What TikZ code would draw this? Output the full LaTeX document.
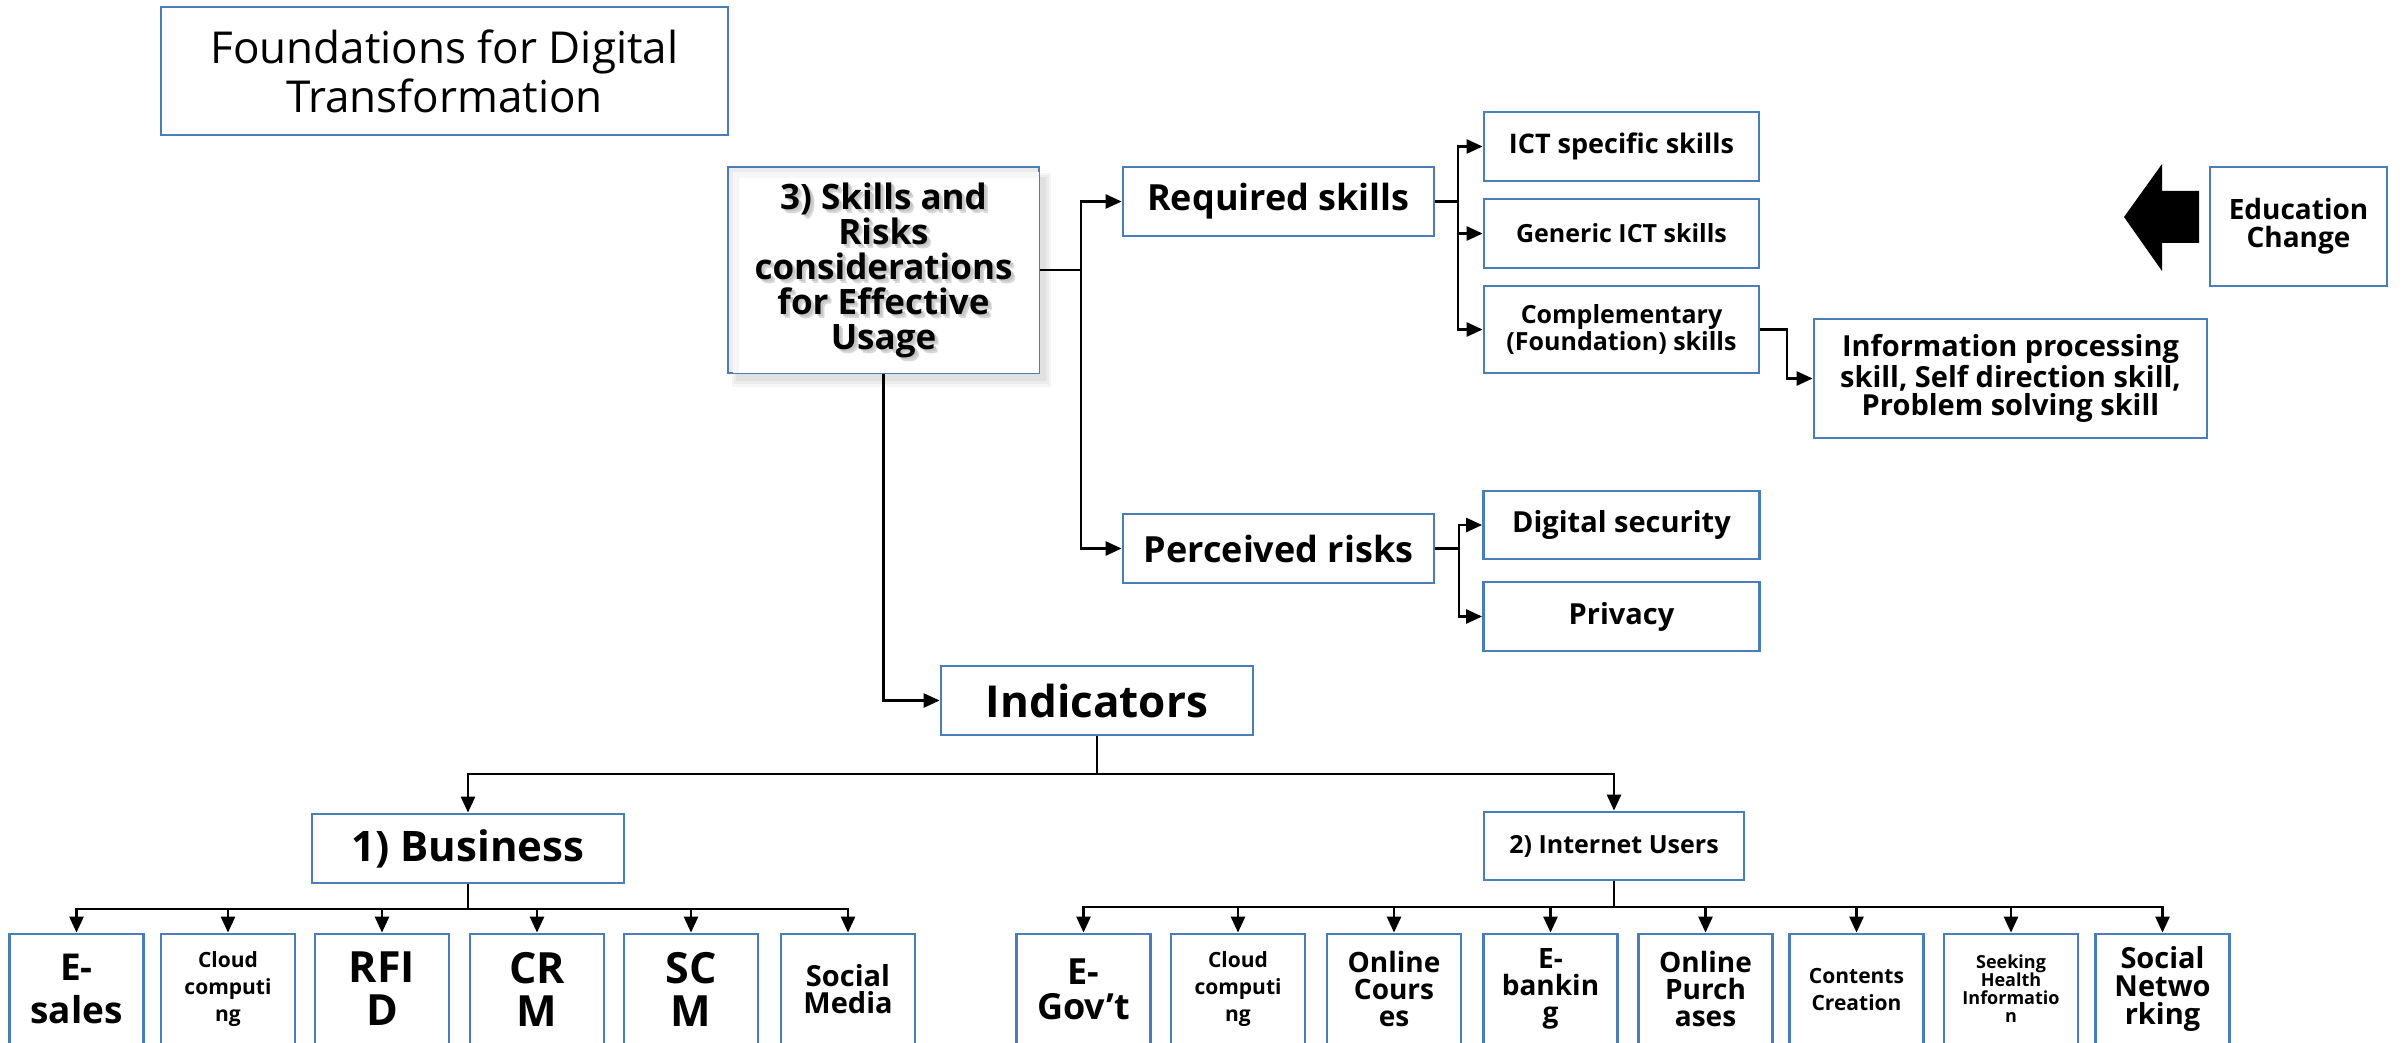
\documentclass[tikz,border=0pt]{standalone}
\usepackage{fontspec}
\setmainfont{Open Sans}
\usetikzlibrary{arrows.meta}
\definecolor{boxblue}{RGB}{74,126,187}

\begin{document}
\begin{tikzpicture}[x=0.5pt,y=-0.5pt,
  box/.style={draw=boxblue,line width=1.4pt,fill=white,align=center,inner sep=0pt},
  sz/.style 2 args={minimum width=#1*0.5pt,minimum height=#2*0.5pt},
  fs/.style 2 args={font=\fontsize{#1pt}{#2pt}\selectfont\bfseries},
  plain/.style={align=center,inner sep=0pt},
  ln/.style={line width=1.3pt},
  arr/.style={ln,-{Triangle[length=8pt,width=7pt]}},
]
\useasboundingbox (0,0) rectangle (2402,1043);

% title
\node[box,sz={567}{128},font=\fontsize{22pt}{24.5pt}\selectfont] (title) at (444.5,71)
  {Foundations for Digital\\Transformation};

% skills and risks box with soft outer shadow and inner shadow
\fill[gray!8] (732,173) rectangle (1051,387);
\fill[gray!16] (734,175) rectangle (1049,384);
\fill[gray!24] (736,177) rectangle (1046,381);
\node[box,fill=gray!16,sz={311}{206}] (skills) at (883.5,270) {};
\fill[gray!7] ([shift={(6,6)}]skills.north west) rectangle ([shift={(-1.5,-1.5)}]skills.south east);
\fill[white] ([shift={(12,12)}]skills.north west) rectangle ([shift={(-1.5,-1.5)}]skills.south east);
\node[plain,fs={17.5}{17.5},text=gray!30] (skillsblur) at (887.5,274.5)
  {3) Skills and\\Risks\\considerations\\for Effective\\Usage};
\node[plain,fs={17.5}{17.5},text=gray!45] (skillsshade) at (886,272.5)
  {3) Skills and\\Risks\\considerations\\for Effective\\Usage};
\node[plain,fs={17.5}{17.5}] (skillstext) at (883.5,270)
  {3) Skills and\\Risks\\considerations\\for Effective\\Usage};

% skills and risks
\node[box,sz={311}{69},fs={18}{21}] (req) at (1278.5,201.5) {Required skills};
\node[box,sz={311}{69},fs={18}{21}] (perc) at (1278.5,548.5) {Perceived risks};
\node[box,sz={275}{69},fs={13.5}{16}] (ict) at (1621.5,146.5) {ICT specific skills};
\node[box,sz={275}{69},fs={12.5}{15}] (gen) at (1621.5,233.5) {Generic ICT skills};
\node[box,sz={275}{87},fs={12.5}{13.5}] (comp) at (1621.5,329.5) {Complementary\\(Foundation) skills};
\node[box,sz={393}{119},fs={14.5}{14}] (info) at (2010.5,378.5)
  {Information processing\\skill, Self direction skill,\\Problem solving skill};
\node[box,sz={276}{68},fs={14.5}{16}] (dsec) at (1621.5,525) {Digital security};
\node[box,sz={276}{69},fs={14.5}{16}] (priv) at (1621.5,616.5) {Privacy};

% education change with block arrow
\node[box,sz={177}{119},fs={14}{14}] (edu) at (2298.5,226.5) {Education\\Change};
\fill (2124,217) -- (2162,164) -- (2162,191) -- (2199,191) -- (2199,243)
  -- (2162,243) -- (2162,271) -- cycle;

% indicators
\node[box,sz={312}{69},fs={22}{24}] (ind) at (1097,700.5) {Indicators};
\node[box,sz={312}{69},fs={21}{24}] (bus) at (468,848.5) {1) Business};
\node[box,sz={260}{68},fs={12.5}{15}] (inet) at (1614,846) {2) Internet Users};

% business indicators
\node[box,sz={134}{110},fs={18.5}{21.5}] (b1) at (76.5,989) {E-\\sales};
\node[box,sz={134}{110},fs={10.5}{13.5}] (b2) at (228,989) {Cloud\\computi\\ng};
\node[box,sz={134}{110},fs={21.5}{21.5}] (b3) at (382,989) {RFI\\D};
\node[box,sz={134}{110},fs={21.5}{21.5}] (b4) at (537,989) {CR\\M};
\node[box,sz={134}{110},fs={21.5}{21.5}] (b5) at (691,989) {SC\\M};
\node[box,sz={134}{110},fs={14.5}{13.5}] (b6) at (848,989) {Social\\Media};

% internet user indicators
\node[box,sz={134}{110},fs={18}{17.5}] (u1) at (1083.5,989) {E-\\Gov{\textquoteright}t};
\node[box,sz={134}{110},fs={10.5}{13.5}] (u2) at (1238,989) {Cloud\\computi\\ng};
\node[box,sz={134}{110},fs={14}{13.5}] (u3) at (1394,989) {Online\\Cours\\es};
\node[box,sz={134}{110},fs={14}{13.5}] (u4) at (1550.5,989) {E-\\bankin\\g};
\node[box,sz={134}{110},fs={14}{13.5}] (u5) at (1705.5,989) {Online\\Purch\\ases};
\node[box,sz={134}{110},fs={10.5}{13.5}] (u6) at (1856.5,989) {Contents\\Creation};
\node[box,sz={134}{110},fs={9}{9}] (u7) at (2011,989) {Seeking\\Health\\Informatio\\n};
\node[box,sz={134}{110},fs={14.5}{14}] (u8) at (2162.5,989) {Social\\Netwo\\rking};

% junction points
\coordinate (sj) at (1081,270);
\coordinate (rj) at (1458,201.5);
\coordinate (cj) at (1787,329.5);
\coordinate (pj) at (1459,548.5);
\coordinate (ij) at (1097,774);
\coordinate (bj) at (468,909);
\coordinate (nj) at (1614,907);

% connectors
\draw[ln] (skills.east) -- (sj);
\draw[arr] (sj) |- (req.west);
\draw[arr] (sj) |- (perc.west);
\draw[ln] (req.east) -- (rj);
\foreach \t in {ict,gen,comp} \draw[arr] (rj) |- (\t.west);
\draw[arr] (comp.east) -- (cj) |- (info.west);
\draw[ln] (perc.east) -- (pj);
\foreach \t in {dsec,priv} \draw[arr] (pj) |- (\t.west);
\draw[arr] (skills.south) |- (ind.west);
\draw[ln] (ind.south) -- (ij);
\draw[arr] (ij) -| (bus.north);
\draw[arr] (ij) -| (inet.north);
\draw[ln] (bus.south) -- (bj);
\foreach \t in {b1,b2,b3,b4,b5,b6} \draw[arr] (bj) -| (\t.north);
\draw[ln] (inet.south) -- (nj);
\foreach \t in {u1,u2,u3,u4,u5,u6,u7,u8} \draw[arr] (nj) -| (\t.north);
\end{tikzpicture}
\end{document}
